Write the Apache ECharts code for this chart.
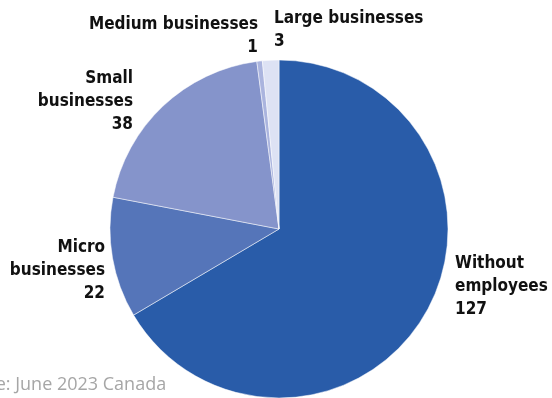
<!DOCTYPE html>
<html>
<head>
<meta charset="utf-8">
<script src="https://cdn.jsdelivr.net/npm/echarts@6/dist/echarts.min.js"></script>
<style>
  html, body { margin: 0; padding: 0; background: #fff; }
  #chart { width: 552px; height: 398px; }
</style>
</head>
<body>
<div id="chart"></div>
<script>
var myChart = echarts.init(document.getElementById('chart'));

// data
var categories = ['Without\nemployees', 'Micro\nbusinesses', 'Small\nbusinesses', 'Medium businesses', 'Large businesses'];
var values = [127, 22, 38, 1, 3];
var colors = ['#295ca9', '#5575b9', '#8594cb', '#aab4de', '#dde2f4'];

// label boxes (top-left / top-right anchor)
var labelPos = [
	{ x: 455, y: 252, align: 'left' },
	{ x: 105, y: 236, align: 'right' },
	{ x: 133, y: 67, align: 'right' },
	{ x: 258, y: 13, align: 'right' },
	{ x: 274, y: 7, align: 'left' }
];

var font = "'DejaVu Sans Condensed', 'Liberation Sans Narrow', sans-serif";

var pieData = categories.map(function (name, i) {
	return {
		name: name,
		value: values[i],
		itemStyle: { color: colors[i] },
		label: { align: labelPos[i].align }
	};
});

myChart.setOption({
	animation: false,
	series: [{
		type: 'pie',
		center: [279, 229],
		radius: 169,
		startAngle: 90,
		clockwise: true,
		data: pieData,
		itemStyle: {
			borderColor: '#fff',
			borderWidth: 0.5
		},
		label: {
			show: true,
			formatter: '{b}\n{c}',
			fontFamily: font,
			fontWeight: 'bold',
			fontSize: 17,
			lineHeight: 23,
			color: '#111',
			overflow: 'none'
		},
		labelLine: { show: false },
		labelLayout: function (params) {
			var p = labelPos[params.dataIndex];
			return {
				x: p.x,
				y: p.y,
				align: p.align,
				verticalAlign: 'top'
			};
		},
		emphasis: { disabled: true }
	}],
	graphic: [{
		type: 'text',
		left: -52,
		top: 376,
		style: {
			text: 'Source: June 2023 Canada',
			font: "18px 'Open Sans', sans-serif",
			fill: '#a6a6a6'
		}
	}]
});

window.addEventListener('resize', function () {
	myChart.resize();
});
</script>
</body>
</html>
